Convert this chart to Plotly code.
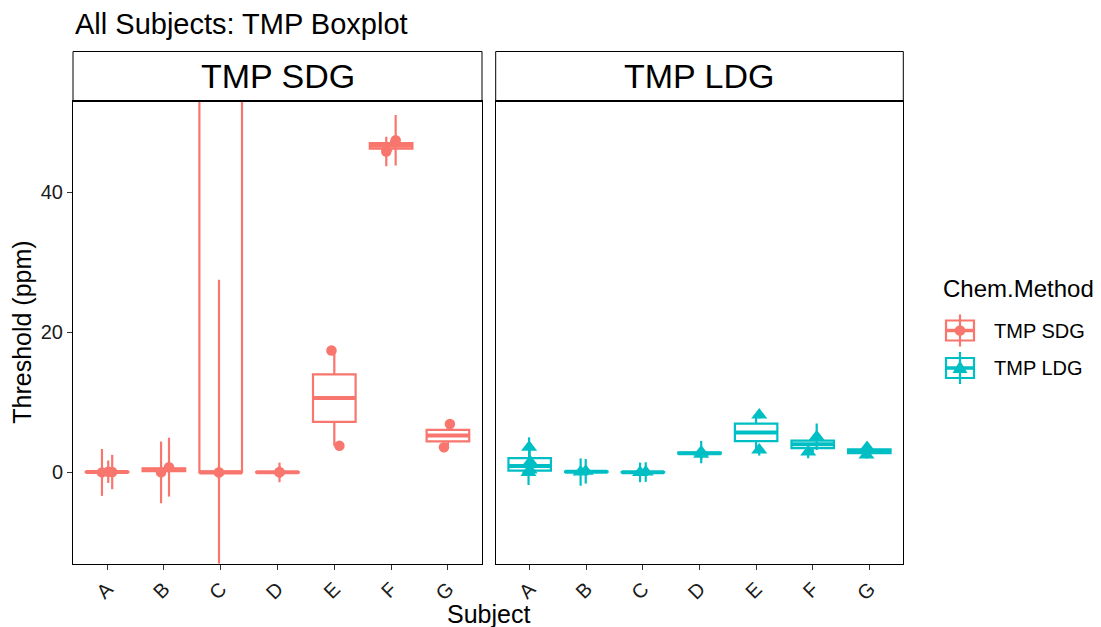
import numpy as np
import plotly.graph_objects as go

W, H = 1101, 627

# ---------------------------------------------------------------- data
subjects = ["A", "B", "C", "D", "E", "F", "G"]
methods = ["TMP SDG", "TMP LDG"]

# TMP SDG: one entry per measurement
sdg_subject = ["A", "A", "A", "B", "B", "C", "C", "C", "D", "D", "E", "E", "F", "F", "G", "G"]
sdg_value = [0.0, 0.1, 0.05, 0.0, 0.75, 0.0, 0.0, 150.0, 0.0, 0.05, 17.4, 3.8, 45.8, 47.4, 3.6, 6.9]
sdg_error = [3.35, 1.6, 2.45, 4.4, 4.2, 27.5, 1.0, 5.0, 1.4, 0.8, 0.5, 0.5, 2.1, 3.6, 0.5, 0.5]
sdg_jitter = [-0.09, 0.02, 0.09, -0.05, 0.09, -0.03, -0.03, 0.05, 0.035, 0.035,
              -0.05, 0.09, -0.085, 0.08, -0.07, 0.035]

# TMP LDG
ldg_subject = ["A", "A", "A", "A", "B", "B", "C", "C", "D", "D", "E", "E", "F", "F", "G", "G"]
ldg_value = [0.0, 0.35, 1.5, 3.6, 0.05, 0.15, 0.0, 0.05, 2.6, 2.9, 3.2, 8.2, 2.92, 5.08, 2.5, 3.55]
ldg_error = [1.8, 0.8, 0.8, 1.4, 1.95, 1.75, 1.4, 1.4, 0.8, 1.6, 0.8, 0.5, 0.9, 1.9, 0.5, 0.5]
ldg_jitter = [-0.02, 0.0, 0.01, -0.01, -0.1, -0.01, -0.05, 0.05, 0.03, 0.03,
              0.055, 0.055, -0.08, 0.07, -0.05, -0.04]

y_ticks = [0, 20, 40]
y_limits = [-10, 50]

colors = {"TMP SDG": "#F8766D", "TMP LDG": "#00BFC4"}
symbols = {"TMP SDG": "circle", "TMP LDG": "triangle-up"}
msizes = {"TMP SDG": 10.5, "TMP LDG": 14}

series = {
    "TMP SDG": (sdg_subject, sdg_value, sdg_error, sdg_jitter),
    "TMP LDG": (ldg_subject, ldg_value, ldg_error, ldg_jitter),
}

# ---------------------------------------------------------------- layout geometry (px)
PANEL_X = [(73, 482), (495.7, 903.3)]
PANEL_TOP, PANEL_BOTTOM = 101, 563.5
STRIP_TOP = 51.5
BOX_WIDTH = 0.75


def px(x):
    return x / W


def py(y):
    return 1 - y / H


def box_stats(vals):
    v = np.sort(np.asarray(vals, float))
    q1, med, q3 = np.percentile(v, [25, 50, 75])
    iqr = q3 - q1
    lo = v[v >= q1 - 1.5 * iqr].min()
    hi = v[v <= q3 + 1.5 * iqr].max()
    return q1, med, q3, lo, hi


fig = go.Figure()

for k, m in enumerate(methods):
    xa = "x" if k == 0 else "x2"
    ya = "y" if k == 0 else "y2"
    col = colors[m]
    subj, vals, errs, jit = series[m]
    pos_of = {s: i + 1 for i, s in enumerate(subjects)}

    xs, q1s, meds, q3s, los, his = [], [], [], [], [], []
    for s in subjects:
        v = [val for ss, val in zip(subj, vals) if ss == s]
        q1, med, q3, lo, hi = box_stats(v)
        xs.append(pos_of[s])
        q1s.append(q1); meds.append(med); q3s.append(q3); los.append(lo); his.append(hi)

    fig.add_trace(go.Box(
        x=xs, q1=q1s, median=meds, q3=q3s, lowerfence=los, upperfence=his,
        width=BOX_WIDTH, whiskerwidth=0, boxpoints=False,
        line=dict(color=col, width=2.2), fillcolor="white",
        xaxis=xa, yaxis=ya, showlegend=False, hoverinfo="skip",
    ))

    # thicker median bars, as in ggplot's boxplot
    mx, my = [], []
    for x, md in zip(xs, meds):
        mx += [x - BOX_WIDTH / 2, x + BOX_WIDTH / 2, None]
        my += [md, md, None]
    fig.add_trace(go.Scatter(
        x=mx, y=my, mode="lines", line=dict(color=col, width=4),
        xaxis=xa, yaxis=ya, showlegend=False, hoverinfo="skip",
    ))

    # individual thresholds with their error bars
    fig.add_trace(go.Scatter(
        x=[pos_of[s] + j for s, j in zip(subj, jit)], y=vals,
        mode="markers",
        marker=dict(symbol=symbols[m], size=msizes[m], color=col, line=dict(width=0)),
        error_y=dict(type="data", array=errs, symmetric=True, visible=True,
                     width=0, thickness=2.2, color=col),
        xaxis=xa, yaxis=ya, showlegend=False, name=m,
    ))

# ---------------------------------------------------------------- axes
pad = 0.05 * (y_limits[1] - y_limits[0])
y_range = [y_limits[0] - pad, y_limits[1] + pad]
tick_font = dict(family="Liberation Sans, Arial, sans-serif", size=20, color="#1a1a1a")

common_x = dict(range=[0.4, 7.6], tickvals=list(range(1, 8)), ticktext=subjects,
                tickangle=-45, ticks="outside", ticklen=5, tickwidth=1, tickcolor="#333333",
                showline=True, mirror=True, linecolor="#000000", linewidth=1,
                showgrid=False, zeroline=False, tickfont=tick_font)
common_y = dict(range=y_range, tickvals=y_ticks, showline=True, mirror=True,
                linecolor="#000000", linewidth=1, showgrid=False, zeroline=False,
                tickfont=tick_font)

fig.update_layout(
    xaxis=dict(domain=[px(PANEL_X[0][0]), px(PANEL_X[0][1])], anchor="y", **common_x),
    xaxis2=dict(domain=[px(PANEL_X[1][0]), px(PANEL_X[1][1])], anchor="y2", **common_x),
    yaxis=dict(domain=[py(PANEL_BOTTOM), py(PANEL_TOP)], anchor="x",
               ticks="outside", ticklen=5, tickwidth=1, tickcolor="#333333", **common_y),
    yaxis2=dict(domain=[py(PANEL_BOTTOM), py(PANEL_TOP)], anchor="x2",
                ticks="", showticklabels=False, **common_y),
)

# ---------------------------------------------------------------- strips, titles, legend
shapes = []
annotations = []
font = "Liberation Sans, Arial, sans-serif"

for (x0, x1), m in zip(PANEL_X, methods):
    shapes.append(dict(type="rect", xref="paper", yref="paper",
                       x0=px(x0), x1=px(x1), y0=py(PANEL_TOP), y1=py(STRIP_TOP),
                       line=dict(color="#000000", width=1), fillcolor="white"))
    shapes.append(dict(type="line", xref="paper", yref="paper",
                       x0=px(x0), x1=px(x1), y0=py(PANEL_TOP), y1=py(PANEL_TOP),
                       line=dict(color="#000000", width=2)))
    annotations.append(dict(text=m, xref="paper", yref="paper",
                            x=px((x0 + x1) / 2), y=py((PANEL_TOP + STRIP_TOP) / 2),
                            xanchor="center", yanchor="middle", showarrow=False,
                            font=dict(family=font, size=34, color="#000000")))

annotations.append(dict(text="All Subjects: TMP Boxplot", xref="paper", yref="paper",
                        x=px(73), y=py(24), xanchor="left", yanchor="middle",
                        showarrow=False, font=dict(family=font, size=29, color="#000000")))
annotations.append(dict(text="Subject", xref="paper", yref="paper",
                        x=px((PANEL_X[0][0] + PANEL_X[1][1]) / 2), y=py(613.5),
                        xanchor="center", yanchor="middle", showarrow=False,
                        font=dict(family=font, size=25, color="#000000")))
annotations.append(dict(text="Threshold (ppm)", xref="paper", yref="paper",
                        x=px(22.5), y=py((PANEL_TOP + PANEL_BOTTOM) / 2), textangle=-90,
                        xanchor="center", yanchor="middle", showarrow=False,
                        font=dict(family=font, size=25, color="#000000")))

# legend
LEG_X = 960
LEG_Y = {"TMP SDG": 330.5, "TMP LDG": 368}
annotations.append(dict(text="Chem.Method", xref="paper", yref="paper",
                        x=px(941), y=py(288.5), xanchor="left", yanchor="middle",
                        showarrow=False, font=dict(family=font, size=24, color="#000000")))
for m in methods:
    cy = LEG_Y[m]
    col = colors[m]
    shapes.append(dict(type="line", xref="paper", yref="paper",
                       x0=px(LEG_X), x1=px(LEG_X), y0=py(cy - 16), y1=py(cy + 16),
                       line=dict(color=col, width=2.2)))
    shapes.append(dict(type="rect", xref="paper", yref="paper",
                       x0=px(LEG_X - 14), x1=px(LEG_X + 14), y0=py(cy + 10), y1=py(cy - 10),
                       line=dict(color=col, width=2.2), fillcolor="rgba(0,0,0,0)"))
    shapes.append(dict(type="line", xref="paper", yref="paper",
                       x0=px(LEG_X - 14), x1=px(LEG_X + 14), y0=py(cy), y1=py(cy),
                       line=dict(color=col, width=3.5)))
    if symbols[m] == "circle":
        shapes.append(dict(type="circle", xref="paper", yref="paper",
                           x0=px(LEG_X - 5.3), x1=px(LEG_X + 5.3),
                           y0=py(cy + 5.3), y1=py(cy - 5.3),
                           line=dict(width=0), fillcolor=col))
    else:
        path = "M {:.5f},{:.5f} L {:.5f},{:.5f} L {:.5f},{:.5f} Z".format(
            px(LEG_X), py(cy - 7.5), px(LEG_X - 7.5), py(cy + 5), px(LEG_X + 7.5), py(cy + 5))
        shapes.append(dict(type="path", xref="paper", yref="paper", path=path,
                           line=dict(width=0), fillcolor=col))
    annotations.append(dict(text=m, xref="paper", yref="paper",
                            x=px(992), y=py(cy), xanchor="left", yanchor="middle",
                            showarrow=False, font=dict(family=font, size=20, color="#000000")))

fig.update_layout(
    width=W, height=H,
    margin=dict(l=0, r=0, t=0, b=0),
    paper_bgcolor="white", plot_bgcolor="white",
    boxmode="overlay",
    showlegend=False,
    shapes=shapes,
    annotations=annotations,
)

fig.write_html("out.html")
